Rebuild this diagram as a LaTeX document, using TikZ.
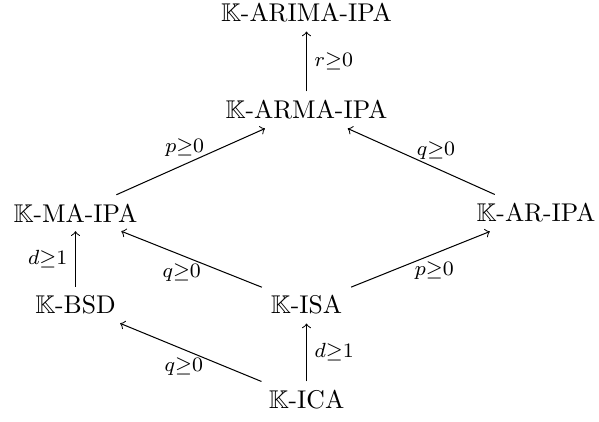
\documentclass[tikz,border=0pt]{standalone}
\usepackage{amssymb}
\begin{document}
\begin{tikzpicture}[x=0.39pt, y=-0.39pt,
  obj/.style={inner sep=0.333em},
  arr/.style={->, line width=0.4pt},
  lbl/.style={inner sep=3pt, font=\footnotesize}]
\useasboundingbox (0,0) rectangle (599,421);
% models
\node[obj] (arima) at (306.5,13)  {$\mathbb{K}$-ARIMA-IPA};
\node[obj] (arma)  at (306.5,110) {$\mathbb{K}$-ARMA-IPA};
\node[obj] (ma)    at (75.5,213)  {$\mathbb{K}$-MA-IPA};
\node[obj] (ar)    at (536,213) {$\mathbb{K}$-AR-IPA};
\node[obj] (bsd)   at (75.5,305)  {$\mathbb{K}$-BSD};
\node[obj] (isa)   at (306.5,305) {$\mathbb{K}$-ISA};
\node[obj] (ica)   at (306.5,400) {$\mathbb{K}$-ICA};
% generalisations
\draw[arr] (arma) -- node[lbl, right] {$r{\geq}0$} (arima);
\draw[arr] (ma) -- node[lbl, above, pos=0.46] {$p{\geq}0$} (arma);
\draw[arr] (ar) -- node[lbl, above, pos=0.4] {$q{\geq}0$} (arma);
\draw[arr] (isa) -- node[lbl, below, pos=0.57] {$q{\geq}0$} (ma);
\draw[arr] (isa) -- node[lbl, below, pos=0.6] {$p{\geq}0$} (ar);
\draw[arr] (bsd) -- node[lbl, left] {$d{\geq}1$} (ma);
\draw[arr] (ica) -- node[lbl, below, pos=0.55] {$q{\geq}0$} (bsd);
\draw[arr] (ica) -- node[lbl, right] {$d{\geq}1$} (isa);
\end{tikzpicture}
\end{document}
